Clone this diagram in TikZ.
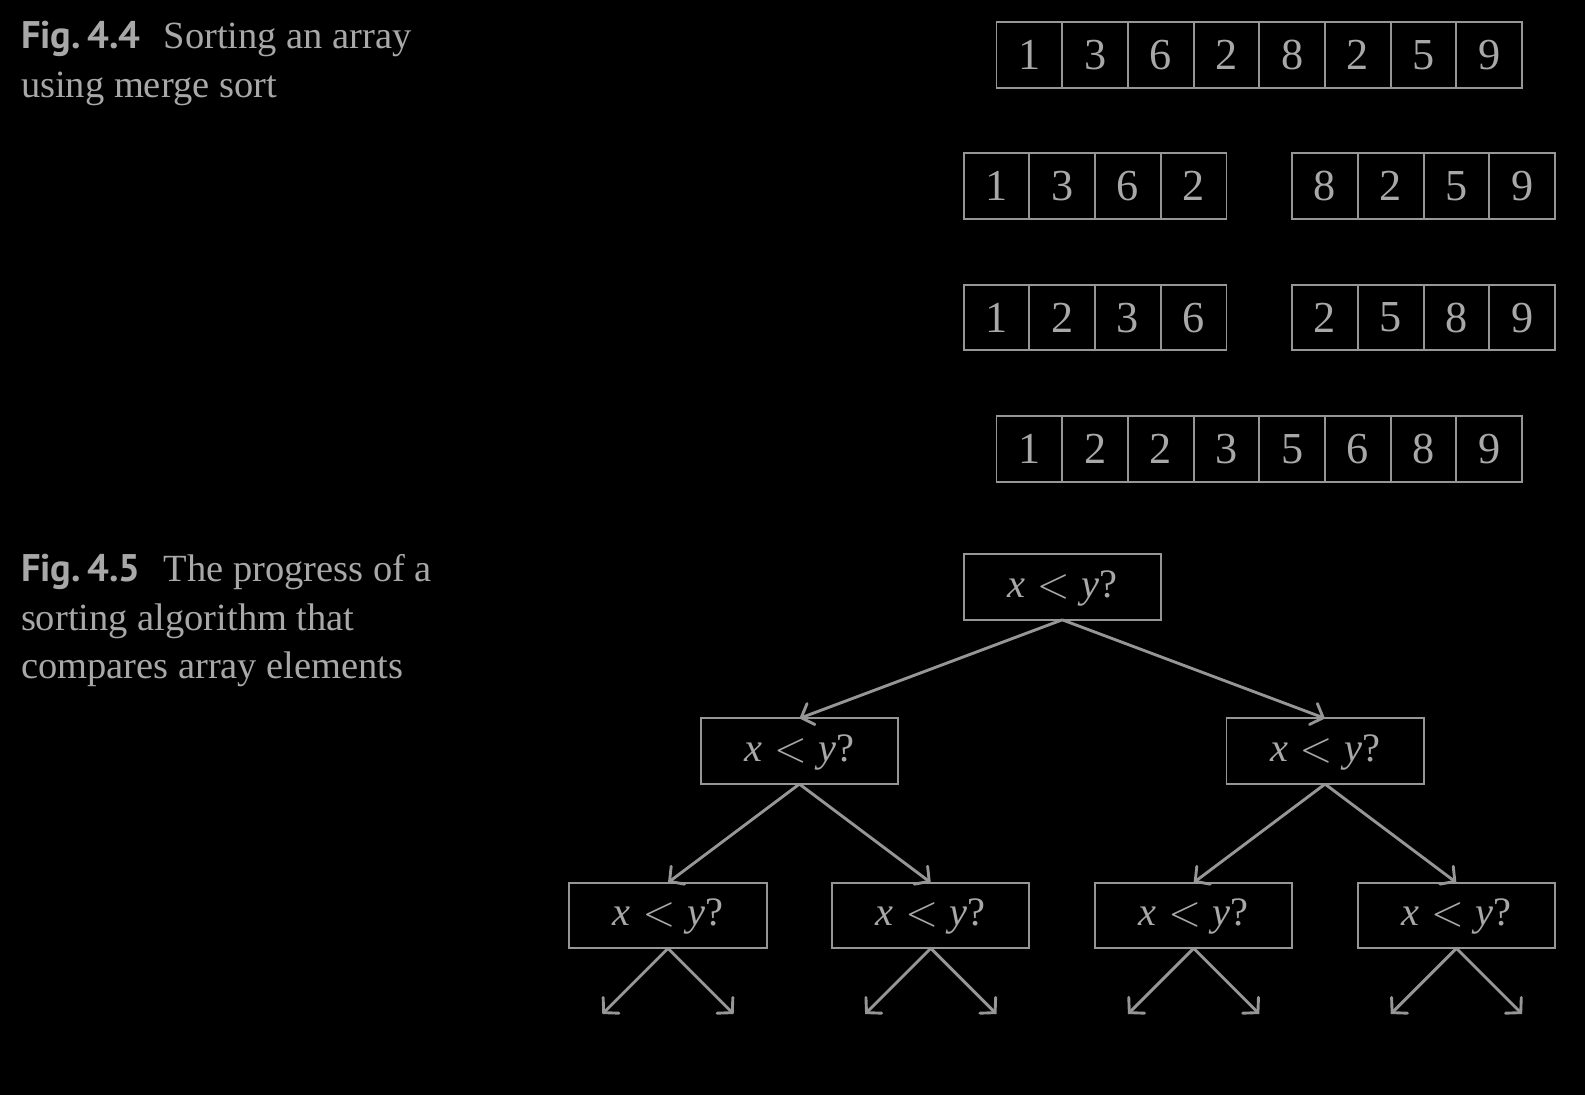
\documentclass[tikz,border=0pt]{standalone}
\usepackage{fontspec}
\setmainfont{Liberation Serif}
\newfontfamily\capsans{PT Sans}
\usetikzlibrary{positioning,chains,calc,arrows.meta}
\definecolor{ink}{RGB}{168,168,168}
\definecolor{wire}{RGB}{150,150,150}
\tikzset{
	merge sort/.style={
		node distance=0pt,
		every node/.style={text=ink}
	},
	cell/.style={
		rectangle,
		draw=wire,
		on chain,
		line width=0.5pt,
		minimum size=0.6cm,
		inner sep=0pt,
		outer sep=0pt,
		font=\fontsize{11.5}{14}\selectfont
	},
	caption/.style={
		anchor=north west,
		inner sep=0pt,
		align=left,
		text=ink,
		font=\fontsize{10}{12.7}\selectfont
	}
}
\tikzset{
	decision tree/.style={
		on grid,
		node distance=1.5cm and 2.4cm,
		every node/.style={text=ink},
		branch/.style={draw=wire, line width=0.75pt,
			-{Straight Barb[length=2.7pt,width=5.8pt,line cap=round]}}
	},
	test/.style={
		rectangle,
		draw=wire,
		line width=0.5pt,
		minimum width=1.8cm,
		minimum height=0.6cm,
		inner sep=0pt,
		outer sep=0pt,
		text height=7pt,
		text depth=1.6pt, % push the baseline a little down
		font=\fontsize{10.5}{13}\selectfont
	}
}
\newcommand\lessq{\textit{x}$\;<\;$\textit{y}?}
\newcommand\figno[1]{{\capsans\bfseries\fontsize{10}{12.7}\selectfont Fig.\,#1}\hspace{0.6em}}

\begin{document}
\begin{tikzpicture}
	\fill[black] (0,0) rectangle (14.474,-9.997);

	\node[caption] (cap44) at (0.185,-0.185)
		{\figno{4.4}Sorting an array\\using merge sort};
	\node[caption] (cap45) at (0.185,-5.05)
		{\figno{4.5}The progress of a\\sorting algorithm that\\compares array elements};

	\begin{scope}[merge sort]
		\foreach \row/\px/\py/\digits in {
			input/9.4/-0.5/{1,3,6,2,8,2,5,9},
			halfl/9.1/-1.7/{1,3,6,2},
			halfr/12.1/-1.7/{8,2,5,9},
			sortl/9.1/-2.9/{1,2,3,6},
			sortr/12.1/-2.9/{2,5,8,9},
			output/9.4/-4.1/{1,2,2,3,5,6,8,9}}
		{
			\begin{scope}[shift={(\px,\py)}, start chain/.expanded={\row\space going right}]
				\foreach \d in \digits
					\node[cell] {\d};
			\end{scope}
		}
	\end{scope}

	\begin{scope}[decision tree]
		\node[test] (root) at (9.7,-5.36) {\lessq};
		\node[test, below left=of root] (l) {\lessq};
		\node[test, below right=of root] (r) {\lessq};
		\node[test, below left=1.5cm and 1.2cm of l] (ll) {\lessq};
		\node[test, below right=1.5cm and 1.2cm of l] (lr) {\lessq};
		\node[test, below left=1.5cm and 1.2cm of r] (rl) {\lessq};
		\node[test, below right=1.5cm and 1.2cm of r] (rr) {\lessq};

		\draw[branch] (root.south) -- (l.north);
		\draw[branch] (root.south) -- (r.north);
		\draw[branch] (l.south) -- (ll.north);
		\draw[branch] (l.south) -- (lr.north);
		\draw[branch] (r.south) -- (rl.north);
		\draw[branch] (r.south) -- (rr.north);

		% open ends below the last row
		\foreach \n in {ll,lr,rl,rr} {
			\coordinate[below left=0.6cm and 0.6cm of \n.south] (\n-a);
			\coordinate[below right=0.6cm and 0.6cm of \n.south] (\n-b);
			\draw[branch] (\n.south) -- (\n-a);
			\draw[branch] (\n.south) -- (\n-b);
		}
	\end{scope}
\end{tikzpicture}
\end{document}
